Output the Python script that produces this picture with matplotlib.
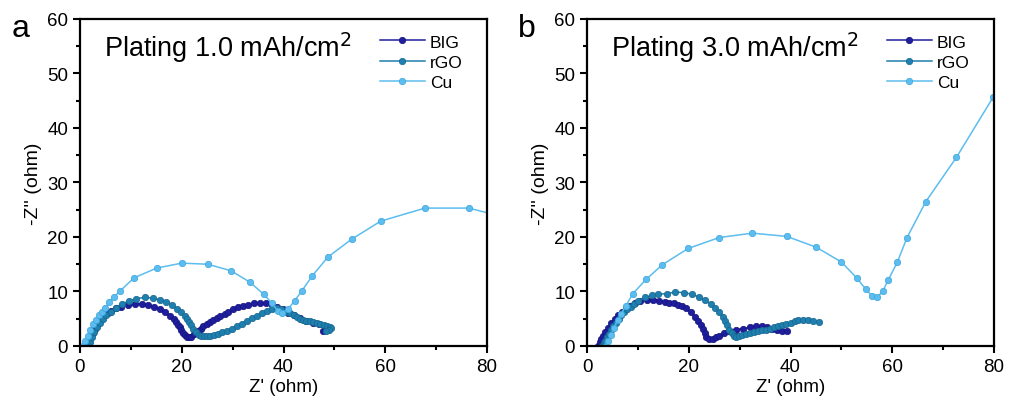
import matplotlib.pyplot as plt
from matplotlib.ticker import MultipleLocator

plt.rcParams['font.family'] = ['Liberation Sans', 'DejaVu Sans']

# Nyquist data, 1.0 mAh/cm2 plating
big_1_x = [1.2, 1.5, 2.0, 2.5, 2.9, 3.4, 3.9, 4.4, 4.9, 5.5, 6.1, 7.0, 8.1, 9.4, 10.8, 12.1, 13.4,
           14.6, 15.7, 16.8, 17.7, 18.4, 18.9, 19.3, 19.6, 19.9, 20.2, 20.6, 21.0, 21.4, 21.8, 22.5,
           23.2, 23.7, 24.2, 24.9, 25.5, 26.2, 26.9, 27.5, 28.5, 29.1, 30.0, 31.1, 32.0, 33.1, 34.2,
           35.4, 36.6, 37.7, 38.8, 39.9, 40.9, 42.0, 43.2, 44.5, 45.8, 47.0, 48.2, 48.7, 47.8]
big_1_y = [0.0, 0.6, 1.5, 2.4, 3.2, 4.0, 4.7, 5.3, 5.8, 6.1, 6.4, 6.9, 7.2, 7.5, 7.7, 7.7, 7.5,
           7.2, 6.8, 6.2, 5.5, 4.9, 4.4, 3.9, 3.4, 2.9, 2.4, 2.0, 1.7, 1.6, 1.7, 2.2,
           2.8, 3.2, 3.6, 4.0, 4.4, 4.8, 5.1, 5.5, 5.9, 6.3, 6.7, 7.1, 7.4, 7.6, 7.8,
           7.9, 7.8, 7.5, 7.1, 6.7, 6.1, 5.6, 5.1, 4.6, 4.3, 4.0, 3.7, 3.3, 2.8]

rgo_1_x = [1.6, 1.9, 2.3, 2.8, 3.3, 3.9, 4.5, 5.2, 6.0, 7.0, 8.3, 9.7, 11.1, 12.7, 14.3, 15.7, 17.0,
           18.1, 19.1, 19.9, 20.6, 21.1, 21.5, 21.9, 22.3, 22.8, 23.3, 23.8, 24.3, 24.9, 25.5, 26.3,
           27.1, 27.9, 28.8, 29.8, 30.8, 31.8, 32.8, 33.8, 34.7, 35.7, 36.7, 37.7, 38.7, 39.6, 40.6,
           41.3, 42.0, 42.6, 43.2, 43.9, 44.5, 45.2, 45.8, 46.5, 47.2, 47.9, 48.5, 49.1, 49.4, 48.9, 48.4]
rgo_1_y = [0.0, 0.7, 1.6, 2.6, 3.5, 4.3, 5.0, 5.7, 6.3, 7.0, 7.7, 8.3, 8.7, 8.9, 8.8, 8.5, 8.1,
           7.5, 6.8, 6.2, 5.5, 5.0, 4.4, 3.8, 3.2, 2.6, 2.1, 1.9, 1.8, 1.8, 1.8, 2.0,
           2.2, 2.5, 2.8, 3.2, 3.6, 4.1, 4.6, 5.1, 5.5, 6.0, 6.4, 6.8, 6.9, 6.7, 6.3,
           6.0, 5.6, 5.3, 5.0, 4.8, 4.6, 4.5, 4.4, 4.2, 4.0, 3.8, 3.7, 3.5, 3.3, 2.9, 2.7]

cu_1_x = [0.5, 1.0, 1.5, 2.0, 2.5, 3.1, 3.7, 4.3, 5.0, 5.7, 6.7, 7.9, 10.6, 15.1, 20.0, 25.1,
          29.7, 33.4, 36.1, 37.7, 38.9, 39.8, 40.9, 42.2, 43.6, 45.6, 48.7, 53.4, 59.1, 67.8, 76.4, 84.0]
cu_1_y = [0.0, 0.9, 1.8, 3.0, 4.0, 4.8, 5.6, 6.2, 7.0, 8.1, 9.0, 10.1, 12.5, 14.3, 15.2, 15.0,
          13.8, 11.7, 9.5, 7.9, 6.4, 6.1, 6.8, 8.3, 10.1, 12.8, 16.3, 19.6, 22.9, 25.3, 25.3, 23.5]

# Nyquist data, 3.0 mAh/cm2 plating
big_3_x = [2.2, 2.5, 2.8, 3.2, 3.6, 4.1, 4.7, 5.5, 6.1, 6.8, 7.6, 8.4, 9.4, 10.4, 11.7, 13.0, 14.2,
           15.3, 16.2, 17.0, 17.8, 18.6, 19.5, 20.4, 21.2, 21.9, 22.4, 22.7, 23.1, 23.4, 23.9, 24.7,
           25.3, 26.0, 27.0, 28.0, 29.3, 30.6, 32.0, 33.3, 34.3, 35.3, 36.3, 37.3, 38.3, 39.3]
big_3_y = [0.0, 0.7, 1.3, 1.9, 2.6, 3.3, 4.2, 5.0, 5.7, 6.3, 6.9, 7.4, 7.9, 8.2, 8.5, 8.5, 8.3,
           8.1, 7.9, 7.8, 7.6, 7.4, 6.9, 6.2, 5.4, 4.6, 3.8, 3.1, 2.3, 1.6, 1.3, 1.3,
           1.6, 1.9, 2.4, 2.8, 3.0, 3.2, 3.4, 3.6, 3.6, 3.4, 3.2, 3.0, 2.8, 2.7]

rgo_3_x = [3.0, 3.3, 3.6, 4.0, 4.3, 4.7, 5.2, 5.7, 6.2, 6.7, 7.3, 7.9, 8.6, 9.3, 10.1, 11.4, 12.7,
           14.0, 15.7, 17.3, 19.0, 20.6, 22.0, 23.2, 24.3, 25.2, 26.0, 26.7, 27.2, 27.6, 28.0, 28.4,
           28.8, 29.3, 29.8, 30.5, 31.2, 32.0, 32.8, 33.6, 34.4, 35.2, 36.0, 36.8, 37.6, 38.4, 39.2,
           40.0, 40.8, 41.5, 42.5, 43.5, 44.5, 45.5]
rgo_3_y = [0.0, 0.5, 1.0, 1.6, 2.2, 2.9, 3.6, 4.3, 5.0, 5.6, 6.2, 6.7, 7.2, 7.7, 8.2, 8.9, 9.3,
           9.5, 9.6, 9.9, 9.8, 9.5, 9.0, 8.4, 7.7, 7.0, 6.2, 5.4, 4.6, 3.8, 3.0, 2.3,
           1.8, 1.6, 1.8, 2.0, 2.2, 2.4, 2.5, 2.7, 2.9, 3.0, 3.2, 3.4, 3.6, 3.8, 4.0,
           4.2, 4.5, 4.7, 4.8, 4.8, 4.6, 4.4]

cu_3_x = [3.8, 4.2, 4.7, 5.3, 6.0, 6.7, 7.6, 9.0, 11.6, 14.8, 19.9, 26.0, 32.5, 39.3, 45.1, 50.0,
          53.0, 54.8, 56.0, 57.0, 58.1, 59.2, 61.0, 62.9, 66.6, 72.6, 79.8]
cu_3_y = [0.0, 1.0, 2.0, 3.3, 4.7, 5.9, 7.3, 9.6, 12.2, 14.9, 17.9, 19.9, 20.7, 20.1, 18.1, 15.4,
          12.5, 10.4, 9.2, 8.9, 10.0, 12.1, 15.4, 19.9, 26.5, 34.6, 45.6]

labels = ['BIG', 'rGO', 'Cu']
colors = ['#1e1e9e', '#1f7fae', '#5cbdee']
edge_colors = ['#14147a', '#17668f', '#3aa6de']


def draw_panel(ax, series, title):
    for (x, y), label, c, ec in zip(series, labels, colors, edge_colors):
        ax.plot(x, y, '-', color=c, lw=1.1, marker='o', ms=4.6, mfc=c, mec=ec, mew=0.5,
                label=label)
    ax.set_xlim(0, 80)
    ax.set_ylim(0, 60)
    ax.xaxis.set_major_locator(MultipleLocator(20))
    ax.xaxis.set_minor_locator(MultipleLocator(10))
    ax.yaxis.set_major_locator(MultipleLocator(10))
    ax.yaxis.set_minor_locator(MultipleLocator(5))
    ax.tick_params(which='both', direction='out', width=1.5, labelsize=13.5)
    ax.tick_params(which='major', length=5)
    ax.tick_params(which='minor', length=3)
    for sp in ax.spines.values():
        sp.set_linewidth(1.6)
    ax.set_xlabel("Z' (ohm)", fontsize=13.5, labelpad=2)
    ax.set_ylabel("-Z'' (ohm)", fontsize=14, labelpad=4)
    ax.text(0.06, 0.915, title, transform=ax.transAxes, fontsize=19.5, va='center', ha='left')
    ax.legend(loc='upper right', frameon=False, fontsize=12.5, handlelength=2.6,
              handletextpad=0.3, labelspacing=0.3, borderaxespad=0.3,
              bbox_to_anchor=(0.97, 0.99))


fig = plt.figure(figsize=(10.1, 4.1), dpi=100)
ax_a = fig.add_axes([0.0792, 0.1537, 0.403, 0.7976])
ax_b = fig.add_axes([0.5812, 0.1537, 0.403, 0.7976])

draw_panel(ax_a, [(big_1_x, big_1_y), (rgo_1_x, rgo_1_y), (cu_1_x, cu_1_y)],
           'Plating 1.0 mAh/cm$^2$')
draw_panel(ax_b, [(big_3_x, big_3_y), (rgo_3_x, rgo_3_y), (cu_3_x, cu_3_y)],
           'Plating 3.0 mAh/cm$^2$')

fig.text(0.02, 0.93, 'a', fontsize=23, ha='center', va='center')
fig.text(0.522, 0.93, 'b', fontsize=23, ha='center', va='center')

fig.savefig('out.png', dpi=100)
